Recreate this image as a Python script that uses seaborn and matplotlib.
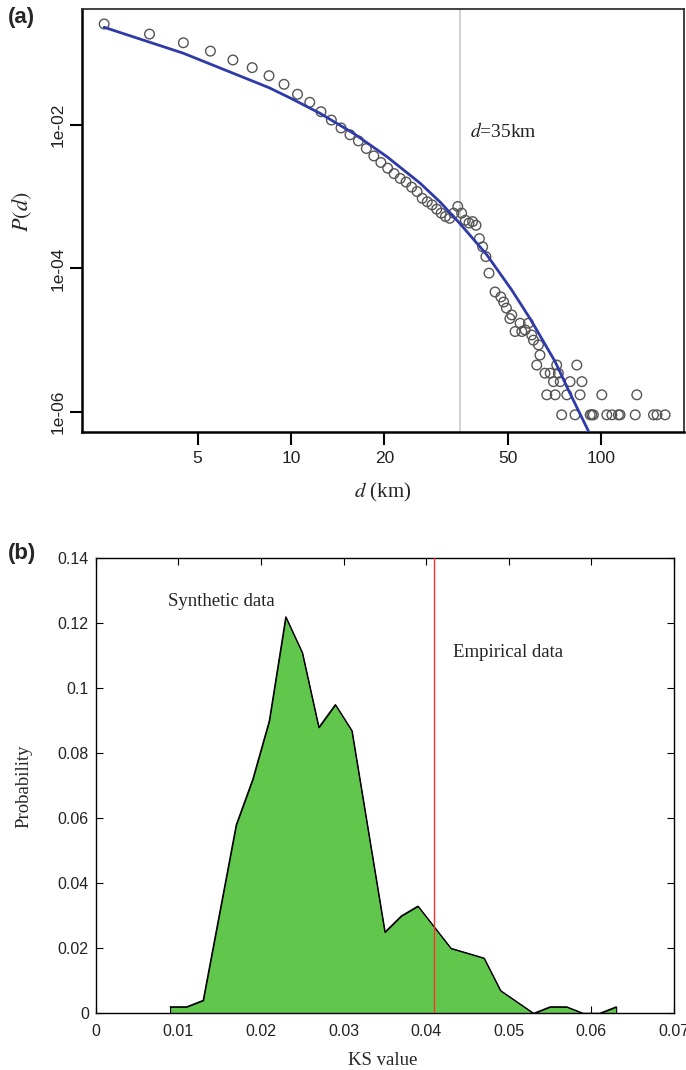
import matplotlib
matplotlib.use("Agg")
import matplotlib.pyplot as plt
import seaborn as sns

# (a) distance distribution P(d)
d_obs = [2.5, 3.5, 4.5, 5.5, 6.5, 7.5, 8.5, 9.5, 10.5, 11.5, 12.5, 13.5,
         14.5, 15.5, 16.5, 17.5, 18.5, 19.5, 20.5, 21.5, 22.5, 23.5, 24.5,
         25.5, 26.5, 27.5, 28.5, 29.5, 30.5, 31.5, 32.5, 33.5, 34.5, 35.5,
         36.5, 37.5, 38.5, 39.5, 40.5, 41.5, 42.5, 43.5, 45.5, 47.5, 48.5,
         49.5, 50.8, 51.5, 52.8, 54.8, 55.5, 56.9, 58.3, 59.7, 60.5, 62.0,
         62.8, 63.5, 65.9, 68.5, 71.9, 72.8, 83.5, 70.2, 73.8, 79.4, 86.7,
         66.8, 71.1, 77.5, 85.5, 100.5, 130.3, 74.6, 82.4, 92.2, 93.3, 94.4,
         104.3, 108.3, 113.7, 115.1, 128.8, 147.5, 151.4, 160.8]
p_obs = [0.256, 0.185, 0.140, 0.107, 0.0806, 0.063, 0.0486, 0.0369, 0.0268,
         0.0207, 0.0153, 0.0117, 0.0091, 0.0073, 0.0060, 0.0047, 0.0037,
         0.0030, 0.0025, 0.0021, 0.0018, 0.0016, 0.00136, 0.00118, 0.00095,
         0.00085, 0.00077, 0.00067, 0.00059, 0.00053, 0.00050, 0.00059,
         0.00073, 0.00059, 0.00047, 0.00043, 0.00045, 0.00040, 0.00026,
         0.00020, 0.000146, 8.6e-5, 4.7e-5, 4.0e-5, 3.4e-5, 2.8e-5, 2.0e-5,
         2.25e-5, 1.32e-5, 1.72e-5, 1.32e-5, 1.39e-5, 1.72e-5, 1.18e-5,
         1.0e-5, 4.5e-6, 8.6e-6, 6.2e-6, 3.46e-6, 3.46e-6, 4.5e-6, 3.46e-6,
         4.5e-6, 2.64e-6, 2.64e-6, 2.64e-6, 2.64e-6, 1.73e-6, 1.73e-6,
         1.73e-6, 1.73e-6, 1.73e-6, 1.73e-6, 9.1e-7, 9.1e-7, 9.1e-7, 9.1e-7,
         9.1e-7, 9.1e-7, 9.1e-7, 9.1e-7, 9.1e-7, 9.1e-7, 9.1e-7, 9.1e-7,
         9.1e-7]
d_fit = [2.5, 4.5, 8.5, 10.0, 12.4, 15.9, 20.4, 26.1, 30.2, 35.1, 42.8,
         51.5, 59.0, 71.1, 78.5, 91.0]
p_fit = [0.230, 0.100, 0.0331, 0.0235, 0.01456, 0.00766, 0.00361, 0.00154,
         8.5e-4, 4.2e-4, 1.55e-4, 5.0e-5, 2.0e-5, 5.0e-6, 2.0e-6, 5.4e-7]
d_cut = 35

# (b) KS values of synthetic data
ks_value = [0.009, 0.011, 0.013, 0.017, 0.019, 0.021, 0.023, 0.025, 0.027,
            0.029, 0.031, 0.035, 0.037, 0.039, 0.043, 0.047, 0.049, 0.051,
            0.053, 0.055, 0.057, 0.059, 0.061, 0.063]
ks_prob = [0.002, 0.002, 0.004, 0.058, 0.072, 0.090, 0.122, 0.111, 0.088,
           0.095, 0.087, 0.025, 0.030, 0.033, 0.020, 0.017, 0.007, 0.0035,
           0.0, 0.002, 0.002, 0.0, 0.0, 0.002]
ks_empirical = 0.041

sns.set_theme(style="ticks")
plt.rcParams["font.family"] = ["Liberation Sans", "DejaVu Sans"]
plt.rcParams["mathtext.fontset"] = "stix"

fig = plt.figure(figsize=(6.86, 10.70), dpi=100)

# %% panel (a)
ax = fig.add_axes([0.1195, 0.5963, 0.8776, 0.3953])
ax.axvline(d_cut, color="#cfcfcf", lw=1.3, zorder=1)
sns.lineplot(x=d_fit, y=p_fit, ax=ax, color="#2f3aa8", lw=2.0,
             sort=False, estimator=None, zorder=3)
sns.scatterplot(x=d_obs, y=p_obs, ax=ax, marker="o", s=48,
                facecolor="none", edgecolor="#555555", linewidth=1.0,
                zorder=2)
ax.set_xscale("log")
ax.set_yscale("log")
ax.set_xlim(2.12, 185)
ax.set_ylim(5.25e-7, 0.414)
ax.set_xticks([5, 10, 20, 50, 100])
ax.set_xticklabels(["5", "10", "20", "50", "100"])
ax.set_yticks([1e-2, 1e-4, 1e-6])
ax.set_yticklabels(["1e-02", "1e-04", "1e-06"])
ax.minorticks_off()
ax.tick_params(length=9, width=1.5, color="black", labelsize=12.5,
               labelcolor="#222222")
ax.tick_params(axis="x", pad=5)
ax.tick_params(axis="y", pad=3, labelrotation=90)
for lab in ax.get_yticklabels():
    lab.set_va("center")
for side in ["left", "bottom"]:
    ax.spines[side].set_linewidth(1.8)
    ax.spines[side].set_color("black")
for side in ["top", "right"]:
    ax.spines[side].set_visible(True)
    ax.spines[side].set_linewidth(1.3)
    ax.spines[side].set_color("#333333")
ax.text(37.8, 0.0081, r"$d$=35km", family="Liberation Serif", fontsize=14,
        va="center", ha="left", color="#222222")
ax.set_xlabel(r"$d$ (km)", family="Liberation Serif", fontsize=15)
ax.set_ylabel(r"$P(d)$", fontsize=16)
ax.xaxis.set_label_coords(0.5, -0.115)
ax.yaxis.set_label_coords(-0.08, 0.52)

# %% panel (b)
bx = fig.add_axes([0.1395, 0.0530, 0.843, 0.4252])
bx.fill_between(ks_value, ks_prob, 0, facecolor="#61c64c",
                edgecolor="black", linewidth=0.8, zorder=2)
sns.lineplot(x=ks_value, y=ks_prob, ax=bx, color="black", lw=0.8,
             sort=False, estimator=None, zorder=3)
bx.axvline(ks_empirical, color="#ff3030", lw=1.0, zorder=4)
bx.set_xlim(0, 0.07)
bx.set_ylim(0, 0.14)
bx.set_xticks([0, 0.01, 0.02, 0.03, 0.04, 0.05, 0.06, 0.07])
bx.set_xticklabels(["0", "0.01", "0.02", "0.03", "0.04", "0.05", "0.06",
                    "0.07"])
bx.set_yticks([0, 0.02, 0.04, 0.06, 0.08, 0.1, 0.12, 0.14])
bx.set_yticklabels(["0", "0.02", "0.04", "0.06", "0.08", "0.1", "0.12",
                    "0.14"])
bx.tick_params(direction="in", top=True, right=True, length=5, width=0.8,
               color="black", labelsize=11.5, labelcolor="#222222")
bx.tick_params(axis="x", pad=8)
bx.tick_params(axis="y", pad=5)
for side in bx.spines:
    bx.spines[side].set_visible(True)
    bx.spines[side].set_linewidth(1.0)
    bx.spines[side].set_color("black")
bx.text(0.01525, 0.1266, "Synthetic data", family="Liberation Serif",
        fontsize=13.5, ha="center", va="center", color="#222222")
bx.text(0.0433, 0.111, "Empirical data", family="Liberation Serif",
        fontsize=13.5, ha="left", va="center", color="#222222")
bx.set_xlabel("KS value", family="Liberation Serif", fontsize=13.5)
bx.set_ylabel("Probability", family="Liberation Serif", fontsize=13.5)
bx.xaxis.set_label_coords(0.497, -0.085)
bx.yaxis.set_label_coords(-0.11, 0.50)

fig.text(0.012, 1 - 18 / 1070, "(a)", fontsize=16, weight="bold", va="center")
fig.text(0.012, 1 - 553 / 1070, "(b)", fontsize=16, weight="bold", va="center")

fig.savefig("out.png", dpi=100)
